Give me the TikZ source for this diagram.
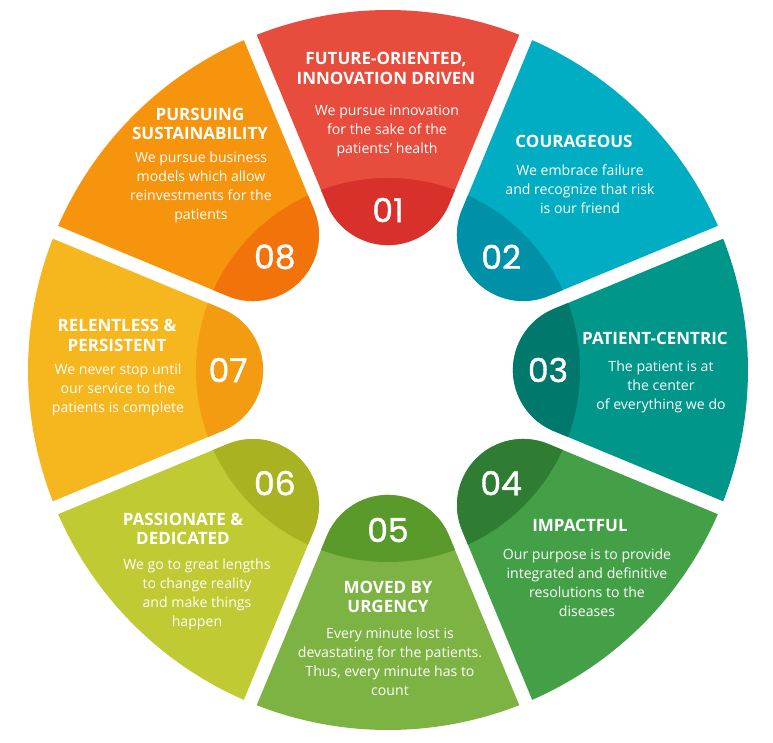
\documentclass[tikz,border=0pt]{standalone}
\usepackage{fontspec}
\setmainfont{Open Sans}
\newfontfamily\numfont[FakeBold=1.2]{Poppins}
\usepackage{tikz}
\usepackage{xcolor}

\definecolor{redL}{HTML}{E84C3D}
\definecolor{redD}{HTML}{D8302A}
\definecolor{cyanL}{HTML}{00ADC2}
\definecolor{cyanD}{HTML}{0091A8}
\definecolor{tealL}{HTML}{00968A}
\definecolor{tealD}{HTML}{00786B}
\definecolor{greenL}{HTML}{43A047}
\definecolor{greenD}{HTML}{2E7D32}
\definecolor{limeL}{HTML}{7CB342}
\definecolor{limeD}{HTML}{5A9A2B}
\definecolor{oliveL}{HTML}{C0CA33}
\definecolor{oliveD}{HTML}{A9B321}
\definecolor{amberL}{HTML}{F6B61E}
\definecolor{amberD}{HTML}{F39C12}
\definecolor{orangeL}{HTML}{F7940D}
\definecolor{orangeD}{HTML}{F27309}

% one petal, axis along +x, inner end rounded
\newcommand{\petal}{(165.75,-61.08) -- (-21.39:360pt) arc[start angle=-21.39,end angle=21.39,radius=360pt] -- (165.75,61.08) arc[start angle=112.5,end angle=247.5,radius=66.1pt] -- cycle}

\begin{document}
\begin{tikzpicture}[x=1pt,y=1pt,
  ttl/.style={text=white,align=center,inner sep=0pt,font=\fontsize{17}{19.5}\selectfont\bfseries},
  txt/.style={text=white,align=center,inner sep=0pt,font=\fontsize{14.1}{19}\selectfont},
  num/.style={text=white,inner sep=0pt,font=\numfont\fontsize{33}{33}\selectfont}]
\useasboundingbox (-388,-372) rectangle (385,370);
\begin{scope}[rotate=90]
\fill[redL] \petal;
\clip \petal;
\fill[redD] (0,0) circle[radius=192pt];
\end{scope}
\begin{scope}[rotate=45]
\fill[cyanL] \petal;
\clip \petal;
\fill[cyanD] (0,0) circle[radius=192pt];
\end{scope}
\begin{scope}[rotate=0]
\fill[tealL] \petal;
\clip \petal;
\fill[tealD] (0,0) circle[radius=192pt];
\end{scope}
\begin{scope}[rotate=-45]
\fill[greenL] \petal;
\clip \petal;
\fill[greenD] (0,0) circle[radius=192pt];
\end{scope}
\begin{scope}[rotate=-90]
\fill[limeL] \petal;
\clip \petal;
\fill[limeD] (0,0) circle[radius=192pt];
\end{scope}
\begin{scope}[rotate=-135]
\fill[oliveL] \petal;
\clip \petal;
\fill[oliveD] (0,0) circle[radius=192pt];
\end{scope}
\begin{scope}[rotate=180]
\fill[amberL] \petal;
\clip \petal;
\fill[amberD] (0,0) circle[radius=192pt];
\end{scope}
\begin{scope}[rotate=135]
\fill[orangeL] \petal;
\clip \petal;
\fill[orangeD] (0,0) circle[radius=192pt];
\end{scope}
% numbers
\node[num] (n1) at (90:160pt) {01};
\node[num] (n2) at (45:160pt) {02};
\node[num] (n3) at (0:160pt) {03};
\node[num] (n4) at (-45:160pt) {04};
\node[num] (n5) at (-90:160pt) {05};
\node[num] (n6) at (-135:160pt) {06};
\node[num] (n7) at (180:160pt) {07};
\node[num] (n8) at (135:160pt) {08};
% titles and texts
\node[ttl] (t1) at (-2,301.5) {FUTURE-ORIENTED,\\INNOVATION DRIVEN};
\node[txt] (b1) at (-1,239) {We pursue innovation\\for the sake of the\\patients’ health};
\node[ttl] (t2) at (186,229) {COURAGEOUS};
\node[txt] (b2) at (192,181) {We embrace failure\\and recognize that risk\\is our friend};
\node[ttl] (t3) at (267,32) {PATIENT-CENTRIC};
\node[txt] (b3) at (273,-17) {The patient is at\\the center\\of everything we do};
\node[ttl] (t4) at (192,-155) {IMPACTFUL};
\node[txt] (b4) at (199,-212.5) {Our purpose is to provide\\integrated and definitive\\resolutions to the\\diseases};
\node[ttl] (t5) at (0,-227) {MOVED BY\\URGENCY};
\node[txt] (b5) at (2,-291.5) {Every minute lost is\\devastating for the patients.\\Thus, every minute has to\\count};
\node[ttl] (t6) at (-205,-159) {PASSIONATE \&\\DEDICATED};
\node[txt] (b6) at (-191,-224) {We go to great lengths\\to change reality\\and make things\\happen};
\node[ttl] (t7) at (-271,34.5) {RELENTLESS \&\\PERSISTENT};
\node[txt] (b7) at (-270,-20) {We never stop until\\our service to the\\patients is complete};
\node[ttl] (t8) at (-188,246) {PURSUING\\SUSTAINABILITY};
\node[txt] (b8) at (-187,182.5) {We pursue business\\models which allow\\reinvestments for the\\patients};
\end{tikzpicture}
\end{document}
